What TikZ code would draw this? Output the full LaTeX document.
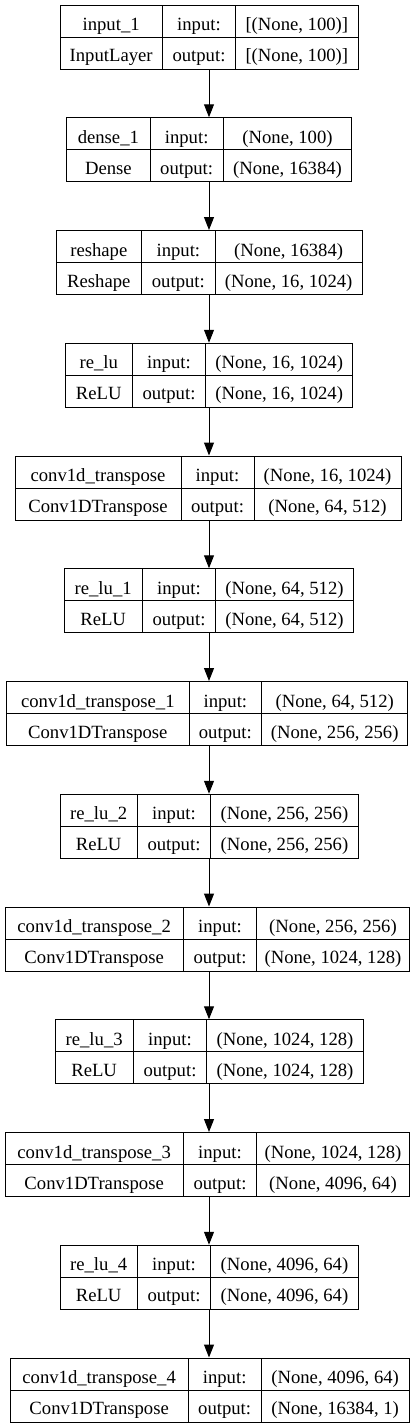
\documentclass[tikz,border=0pt]{standalone}
\usepackage{fontspec}
\setmainfont{Liberation Serif}
\usetikzlibrary{arrows.meta}
\begin{document}
\begin{tikzpicture}[x=1pt,y=-1pt,
  layerbox/.style={draw, line width=1pt, inner sep=0pt, minimum height=64pt},
  sep/.style={line width=1pt},
  cell/.style={inner sep=0pt, anchor=base, font=\fontsize{18.67}{22}\selectfont},
  flow/.style={-{Triangle[length=13pt,width=10pt]}, line width=1pt}]
\useasboundingbox (0,0) rectangle (419,1427);
\coordinate (axis) at (209,0);
\foreach \k/\nm/\xl/\xa/\xb/\xr/\lab/\typ/\inp/\outp in {
 0/L0/60/162.3/235.7/358/input\_1/InputLayer/{[(None, 100)]}/{[(None, 100)]},
 1/L1/66.7/150/223.3/351.7/dense\_1/Dense/{(None, 100)}/{(None, 16384)},
 2/L2/56/141.7/215/362.3/reshape/Reshape/{(None, 16384)}/{(None, 16, 1024)},
 3/L3/65.3/132.3/205.7/352.7/re\_lu/ReLU/{(None, 16, 1024)}/{(None, 16, 1024)},
 4/L4/15/181/254/401/conv1d\_transpose/Conv1DTranspose/{(None, 16, 1024)}/{(None, 64, 512)},
 5/L5/64/142.3/215.7/353.3/re\_lu\_1/ReLU/{(None, 64, 512)}/{(None, 64, 512)},
 6/L6/6.7/189/261.7/407.7/conv1d\_transpose\_1/Conv1DTranspose/{(None, 64, 512)}/{(None, 256, 256)},
 7/L7/60/137.3/210.7/358.3/re\_lu\_2/ReLU/{(None, 256, 256)}/{(None, 256, 256)},
 8/L8/5/183.3/256.7/409.3/conv1d\_transpose\_2/Conv1DTranspose/{(None, 256, 256)}/{(None, 1024, 128)},
 9/L9/55/133.3/206.7/363.3/re\_lu\_3/ReLU/{(None, 1024, 128)}/{(None, 1024, 128)},
 10/L10/5/183.3/256.7/409.3/conv1d\_transpose\_3/Conv1DTranspose/{(None, 1024, 128)}/{(None, 4096, 64)},
 11/L11/60/137.3/210.7/358.3/re\_lu\_4/ReLU/{(None, 4096, 64)}/{(None, 4096, 64)},
 12/L12/10/188.3/261/409.3/conv1d\_transpose\_4/Conv1DTranspose/{(None, 4096, 64)}/{(None, 16384, 1)}%
}{
 \pgfmathsetmacro\tp{5+\k*112.75}
 \pgfmathsetmacro\cx{(\xl+\xr)/2}
 \pgfmathsetmacro\bw{\xr-\xl}
 \pgfmathsetmacro\ca{(\xl+\xa)/2}
 \pgfmathsetmacro\cb{(\xa+\xb)/2}
 \pgfmathsetmacro\cc{(\xb+\xr)/2}
 \node[layerbox, minimum width=\bw pt] (\nm) at (\cx,\tp+32) {};
 \draw[sep] (\xl,\tp+32) -- (\xr,\tp+32);
 \draw[sep] (\xa,\tp) -- (\xa,\tp+64);
 \draw[sep] (\xb,\tp) -- (\xb,\tp+64);
 \node[cell] (\nm a) at (\ca,\tp+25.5) {\lab};
 \node[cell] (\nm b) at (\ca,\tp+56.5) {\typ};
 \node[cell] (\nm c) at (\cb,\tp+25.5) {input:};
 \node[cell] (\nm d) at (\cb,\tp+56.5) {output:};
 \node[cell] (\nm e) at (\cc,\tp+25.5) {\inp};
 \node[cell] (\nm f) at (\cc,\tp+56.5) {\outp};
}
\foreach \p/\q in {L0/L1,L1/L2,L2/L3,L3/L4,L4/L5,L5/L6,L6/L7,L7/L8,L8/L9,L9/L10,L10/L11,L11/L12}{
 \draw[flow] (axis |- \p.south) -- (axis |- \q.north);
}
\end{tikzpicture}
\end{document}
